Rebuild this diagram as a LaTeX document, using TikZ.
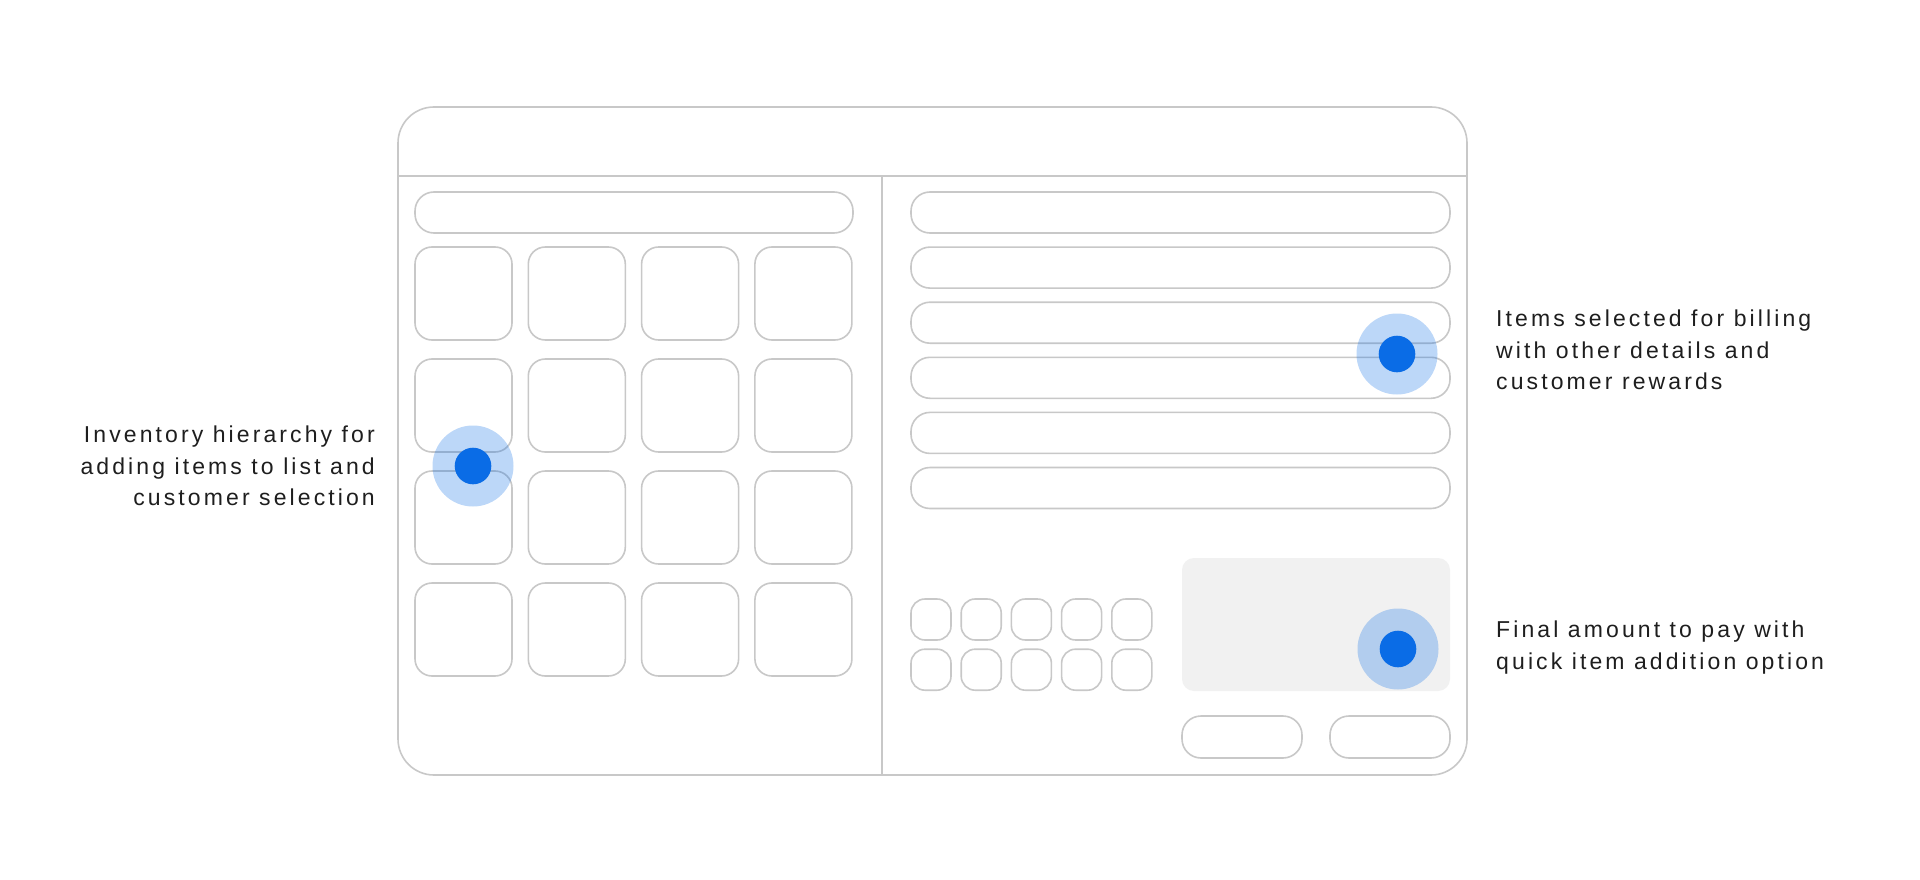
\documentclass[tikz,border=0pt]{standalone}
\usepackage{fontspec}
\setmainfont{Liberation Sans}[LetterSpace=13.5]
\definecolor{linegray}{RGB}{200,200,200}
\definecolor{panelgray}{RGB}{241,241,241}
\definecolor{dotblue}{RGB}{10,108,230}
\definecolor{textdark}{RGB}{30,30,30}
\begin{document}
\begin{tikzpicture}[x=1pt,y=-1pt,
  wire/.style={draw=linegray,line width=1.6pt},
  tile/.style={wire,rounded corners=17pt},
  bar/.style={wire,rounded corners=19pt},
  key/.style={wire,rounded corners=14pt},
  halo/.style={fill=dotblue,fill opacity=0.27},
  core/.style={fill=dotblue},
  label/.style={inner sep=0pt,text=textdark,font=\fontsize{23}{31.5}\selectfont}
]
\useasboundingbox (0,0) rectangle (1920,880);
\fill[white] (0,0) rectangle (1920,880);
% frame
\draw[wire,rounded corners=36pt] (398,107) rectangle (1467,775);
\draw[wire] (398,176) -- (1467,176);
\draw[wire] (882,176) -- (882,775);
% left panel
\draw[bar] (415,192) rectangle (853,233);
\foreach \c in {0,1,2,3}{
  \foreach \r in {0,1,2,3}{
    \draw[tile] ({415+\c*113.3},{247+\r*112}) rectangle ++(97,93);
  }
}
% right panel rows
\foreach \r in {0,...,5}{
  \draw[bar] (911,{192+\r*55.1}) rectangle ++(539,41);
}
% keypad
\foreach \c in {0,...,4}{
  \foreach \r in {0,1}{
    \draw[key] ({911+\c*50.2},{599+\r*50.2}) rectangle ++(40,41);
  }
}
\fill[panelgray,rounded corners=12pt] (1182,558) rectangle (1450,691);
\draw[bar] (1182,716) rectangle (1302,758);
\draw[bar] (1330,716) rectangle (1450,758);
% markers
\fill[halo] (473,466) circle (40.5);
\fill[core] (473,466) circle (18.3);
\fill[halo] (1397,354) circle (40.5);
\fill[core] (1397,354) circle (18.3);
\fill[halo] (1398,649) circle (40.5);
\fill[core] (1398,649) circle (18.3);
% labels
\node[label,align=right,anchor=east] (inv) at (375,466) {Inventory hierarchy for\\adding items to list and\\customer selection};
\node[label,align=left,anchor=west] (items) at (1496,350) {Items selected for billing\\with other details and\\customer rewards};
\node[label,align=left,anchor=west] (final) at (1496,647.5) {Final amount to pay with\\quick item addition option};
\end{tikzpicture}
\end{document}
